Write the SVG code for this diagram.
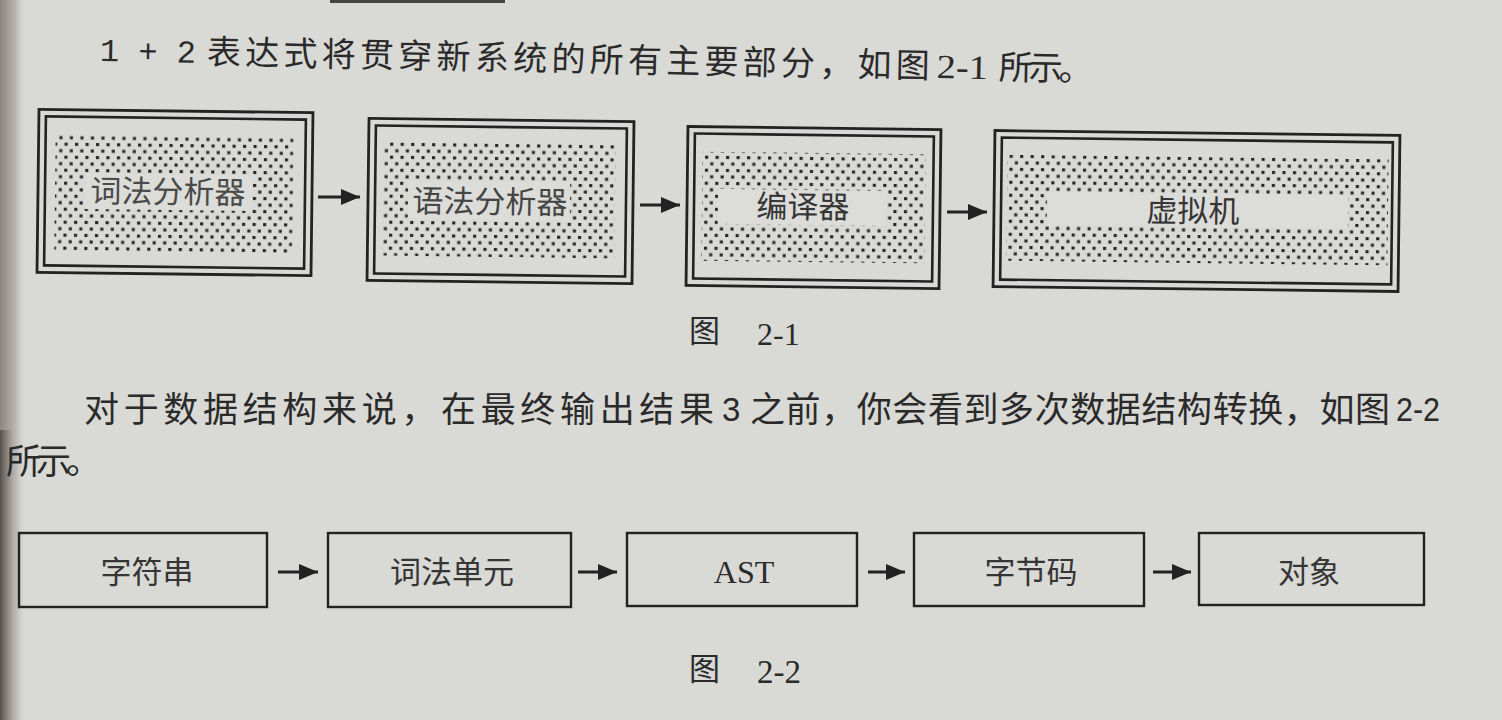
<svg xmlns="http://www.w3.org/2000/svg" width="1502" height="720" viewBox="0 0 1502 720">
<defs>
  <pattern id="dots" patternUnits="userSpaceOnUse" width="10.5" height="13">
    <rect x="1" y="1" width="3.1" height="3.1" fill="#262626"/>
    <rect x="6.25" y="7.5" width="3.1" height="3.1" fill="#262626"/>
  </pattern>
  <linearGradient id="spine" x1="0" x2="1" y1="0" y2="0">
    <stop offset="0" stop-color="#8a857f"/>
    <stop offset="0.6" stop-color="#b9b5b0"/>
    <stop offset="1" stop-color="#d8d8d4" stop-opacity="0"/>
  </linearGradient>
  <linearGradient id="spine2" x1="0" x2="1" y1="0" y2="0">
    <stop offset="0" stop-color="#55504b"/>
    <stop offset="1" stop-color="#8f8a85" stop-opacity="0"/>
  </linearGradient>
  <marker id="arr" markerUnits="userSpaceOnUse" markerWidth="19" markerHeight="16" refX="19" refY="8" orient="auto">
    <path d="M0,0 L19,8 L0,16 z" fill="#222"/>
  </marker>
  <style>
    .cjk { font-family: "Noto Sans CJK SC", "Noto Sans", sans-serif; fill: #2a2a2a; }
    .lab { font-family: "Noto Sans CJK SC", "Noto Sans", sans-serif; fill: #353535; font-size: 31px; text-anchor: middle; }
    .ser { font-family: "Liberation Serif", serif; fill: #2a2a2a; }
    .o { fill: none; stroke: #222; stroke-width: 2.8; }
    .i { fill: none; stroke: #222; stroke-width: 2.6; }
    .pat { fill: url(#dots); }
    .clr { fill: #dcdcd8; }
    .sb { fill: none; stroke: #222; stroke-width: 2.4; }
    .con { stroke: #222; stroke-width: 2.8; fill: none; marker-end: url(#arr); }
  </style>
</defs>

<rect x="0" y="0" width="1502" height="720" fill="#d9d9d5"/>
<rect x="0" y="0" width="26" height="720" fill="url(#spine)"/>
<rect x="0" y="430" width="14" height="290" fill="url(#spine2)"/>
<rect x="330" y="0" width="175" height="3" fill="#444"/>

<!-- body text line 1 -->
<g transform="rotate(1.1 100 50)">
  <text x="100" y="61" font-family="Liberation Mono, monospace" font-size="32" fill="#2a2a2a">1 + 2</text>
  <text class="cjk" x="207" y="62" font-size="34" textLength="723" lengthAdjust="spacing">表达式将贯穿新系统的所有主要部分，如图</text>
  <text class="ser" x="937" y="62" font-size="34" textLength="51" lengthAdjust="spacingAndGlyphs">2-1</text>
  <text class="cjk" x="999" y="62" font-size="34" textLength="94" lengthAdjust="spacing">所示。</text>
</g>

<!-- Figure 2-1 -->
<g id="lexer" transform="rotate(0.7 175 192)">
  <rect class="o" x="38" y="111" width="274" height="163"/>
  <rect class="i" x="45" y="118" width="260" height="149"/>
  <rect class="pat" x="55" y="135" width="238" height="117"/>
  <rect class="clr" x="85" y="174" width="167" height="36"/>
  <text class="lab" x="168" y="203" style="fill:#4a4a4a">词法分析器</text>
</g>
<g id="parser" transform="rotate(0.7 500 201)">
  <rect class="o" x="368" y="120" width="265" height="162"/>
  <rect class="i" x="375" y="127" width="251" height="148"/>
  <rect class="pat" x="383" y="143" width="232" height="114"/>
  <rect class="clr" x="408" y="182" width="162" height="38"/>
  <text class="lab" x="490" y="213" style="fill:#454545">语法分析器</text>
</g>
<g id="compiler" transform="rotate(0.7 813 207)">
  <rect class="o" x="687" y="128" width="253" height="159"/>
  <rect class="i" x="694" y="135" width="239" height="145"/>
  <rect class="pat" x="702" y="153" width="223" height="109"/>
  <rect class="clr" x="718" y="190" width="169" height="35"/>
  <text class="lab" x="803" y="218">编译器</text>
</g>
<g id="vm" transform="rotate(0.7 1196 211)">
  <rect class="o" x="994" y="133" width="405" height="156"/>
  <rect class="i" x="1001" y="140" width="391" height="142"/>
  <rect class="pat" x="1007" y="157" width="381" height="106"/>
  <rect class="clr" x="1047" y="193" width="301" height="34"/>
  <text class="lab" x="1193" y="222">虚拟机</text>
</g>

<g id="cap1">
  <text class="cjk" x="689" y="342" font-size="31">图</text>
  <text class="ser" x="757" y="345" font-size="32">2-1</text>
</g>

<!-- body text line 2, 3 -->
<text class="cjk" x="84" y="422" font-size="35" textLength="630" lengthAdjust="spacing">对于数据结构来说，在最终输出结果</text>
<text x="722" y="421" font-family="Liberation Sans, sans-serif" font-size="33" fill="#2a2a2a">3</text>
<text class="cjk" x="750" y="422" font-size="35" textLength="640" lengthAdjust="spacing">之前，你会看到多次数据结构转换，如图</text>
<text x="1396" y="421" font-family="Liberation Sans, sans-serif" font-size="33" fill="#2a2a2a" textLength="44" lengthAdjust="spacingAndGlyphs">2-2</text>
<text class="cjk" x="6" y="474" font-size="35" textLength="95" lengthAdjust="spacing">所示。</text>

<!-- Figure 2-2 -->
<g id="string">
  <rect class="sb" x="19" y="533" width="248" height="74"/>
  <text class="lab" x="147" y="583">字符串</text>
</g>
<g id="tokens">
  <rect class="sb" x="328" y="533" width="243" height="74"/>
  <text class="lab" x="452" y="583">词法单元</text>
</g>
<g id="ast">
  <rect class="sb" x="627" y="533" width="230" height="73"/>
  <text x="744" y="583" font-family="Liberation Serif, serif" font-size="32" fill="#2a2a2a" text-anchor="middle">AST</text>
</g>
<g id="bytecode">
  <rect class="sb" x="914" y="533" width="230" height="73"/>
  <text class="lab" x="1031" y="583">字节码</text>
</g>
<g id="object">
  <rect class="sb" x="1199" y="533" width="225" height="72"/>
  <text class="lab" x="1309" y="583">对象</text>
</g>

<g id="cap2">
  <text class="cjk" x="689" y="680" font-size="31">图</text>
  <text class="ser" x="757" y="683" font-size="33">2-2</text>
</g>

<g id="connectors">
  <line class="con" x1="318" y1="197" x2="360" y2="197"/>
  <line class="con" x1="640" y1="205" x2="680" y2="205"/>
  <line class="con" x1="947" y1="212" x2="987" y2="212"/>
  <line class="con" x1="278" y1="572" x2="318" y2="572"/>
  <line class="con" x1="578" y1="572" x2="617" y2="572"/>
  <line class="con" x1="868" y1="572" x2="905" y2="572"/>
  <line class="con" x1="1153" y1="572" x2="1191" y2="572"/>
</g>
</svg>
